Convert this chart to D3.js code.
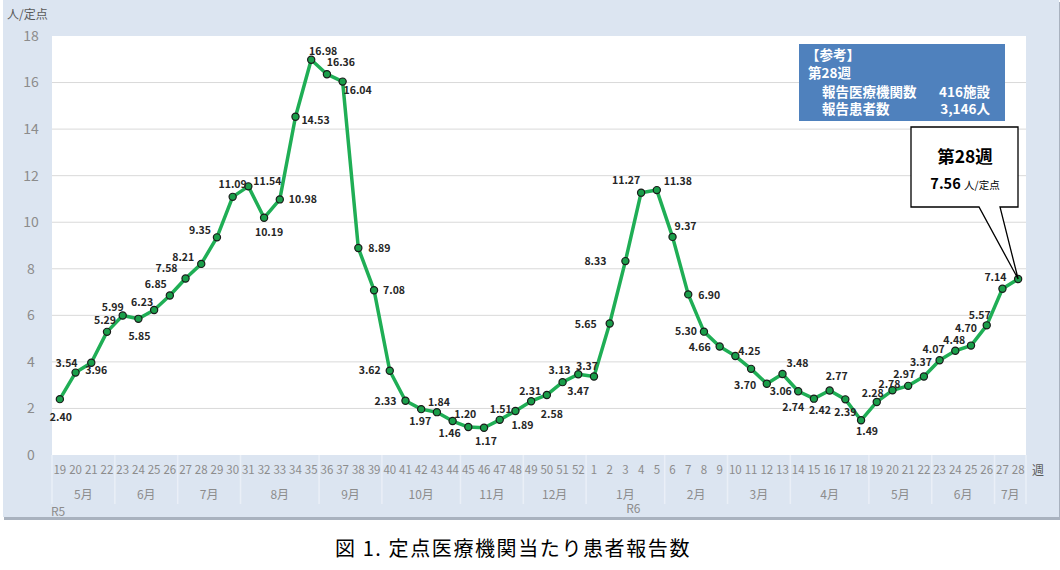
<!DOCTYPE html>
<html>
<head>
<meta charset="utf-8">
<script src="https://cdn.jsdelivr.net/npm/d3@7"></script>
<style>
  body { margin: 0; background: #fff; }
  svg text { font-family: "Noto Sans CJK JP", "Noto Sans", sans-serif; }
</style>
</head>
<body>
<div id="chart"></div>
<script>
// weeks R5 19..52, R6 1..28
const weeks = [19,20,21,22,23,24,25,26,27,28,29,30,31,32,33,34,35,36,37,38,39,40,41,42,43,44,45,46,47,48,49,50,51,52,
  1,2,3,4,5,6,7,8,9,10,11,12,13,14,15,16,17,18,19,20,21,22,23,24,25,26,27,28];
const values = [2.40,3.54,3.96,5.29,5.99,5.85,6.23,6.85,7.58,8.21,9.35,11.09,11.54,10.19,10.98,14.53,16.98,16.36,16.04,8.89,7.08,
  3.62,2.33,1.97,1.84,1.46,1.20,1.17,1.51,1.89,2.31,2.58,3.13,3.47,
  3.37,5.65,8.33,11.27,11.38,9.37,6.90,5.30,4.66,4.25,3.70,3.06,3.48,2.74,2.42,2.77,2.39,1.49,
  2.28,2.78,2.97,3.37,4.07,4.48,4.70,5.57,7.14,7.56];
const months = ['5月','6月','7月','8月','9月','10月','11月','12月','1月','2月','3月','4月','5月','6月','7月'];
const monthWeeks = [4,4,4,5,4,5,4,4,5,4,4,5,4,4,2];
const yTicks = [0,2,4,6,8,10,12,14,16,18];
const infoLines = ['【参考】','第28週'];
const infoRows = [['報告医療機関数','416施設'],['報告患者数','3,146人']];

// nudge of each value label from its point (label centre), null = no label
const labelNudge = [[1,18],[-9,-9],[5,8],[-2,-12],[-10,-8],[1,17],[-12,-8],[-14,-11],[-19,-10],[-18,-7],[-17,-7],
  [0,-13],[19,-5],[5,15],[23,0],[20,4],[12,-8],[14,-12],[15,9],[21,0],[20,0],
  [-20,0],[-20,1],[-1,12],[2,-10],[-3,12],[-3,-13],[2,14],[1,-11],[7,14],[-1,-10],[5,19],[-3,-12],[0,17],
  [-7,-10],[-24,1],[-30,0],[-15,-12],[21,-9],[13,-11],[21,1],[-18,0],[-20,1],[14,-5],[-6,16],[14,8],[15,-11],
  [-5,16],[6,12],[7,-14],[0,13],[6,11],
  [-4,-9],[-3,-6],[-4,-12],[-3,-14],[-6,-11],[-1,-10],[-5,-17],[-7,-10],[-7,-11],null];

const W = 1060, H = 570;
const svg = d3.select('#chart').append('svg').attr('width', W).attr('height', H);

// panel background
svg.append('rect').attr('x', 4).attr('y', 2).attr('width', 1056).attr('height', 518).attr('fill', '#a9b2bf');
svg.append('rect').attr('x', 3).attr('y', 0).attr('width', 1056).attr('height', 517).attr('fill', '#dce5f1');

const plot = {left: 52, right: 1026, top: 36, bottom: 455};
svg.append('rect').attr('x', plot.left).attr('y', plot.top)
  .attr('width', plot.right - plot.left).attr('height', plot.bottom - plot.top).attr('fill', '#fff');

const idx = d3.range(values.length);
const x = d3.scaleBand().domain(idx).range([plot.left, plot.right]);
const cx = i => x(i) + x.bandwidth() / 2;
const y = d3.scaleLinear().domain([0, 18]).range([plot.bottom, plot.top]);

// grid
svg.append('g').selectAll('line').data(yTicks.filter(t => t > 0 && t < 18)).enter().append('line')
  .attr('x1', plot.left).attr('x2', plot.right)
  .attr('y1', d => y(d)).attr('y2', d => y(d))
  .attr('stroke', '#d9d9d9').attr('stroke-width', 1);

// y labels
svg.append('g').selectAll('text').data(yTicks).enter().append('text')
  .attr('x', 31).attr('y', d => y(d)).attr('dy', '0.35em')
  .attr('text-anchor', 'middle').attr('font-size', 14).attr('fill', '#8c8c8c')
  .text(d => d);
svg.append('text').attr('x', 7).attr('y', 19).attr('font-size', 12).attr('fill', '#595959').text('人/定点');

// x axis: weeks
svg.append('g').selectAll('text').data(weeks).enter().append('text')
  .attr('x', (d, i) => cx(i)).attr('y', 474)
  .attr('text-anchor', 'middle').attr('font-size', 11.5).attr('fill', '#8c8c8c')
  .attr('font-family', '"Liberation Sans Narrow", "Noto Sans CJK JP", sans-serif')
  .text(d => d);
svg.append('text').attr('x', 1032).attr('y', 475).attr('font-size', 12).attr('fill', '#595959').text('週');

// months and separators
let start = 0;
const seps = [plot.left];
months.forEach((m, k) => {
  const end = start + monthWeeks[k] - 1;
  svg.append('text').attr('x', (cx(start) + cx(end)) / 2).attr('y', 499)
    .attr('text-anchor', 'middle').attr('font-size', 12).attr('fill', '#8c8c8c').text(m);
  seps.push(x(end) + x.bandwidth());
  start = end + 1;
});
svg.append('g').selectAll('line').data(seps).enter().append('line')
  .attr('x1', d => d).attr('x2', d => d).attr('y1', plot.bottom).attr('y2', 504)
  .attr('stroke', '#eaeff7').attr('stroke-width', 1.5);
svg.append('text').attr('x', 51).attr('y', 516).attr('font-size', 12).attr('fill', '#8c8c8c').text('R5');
const r6 = weeks.indexOf(1);
svg.append('text').attr('x', (cx(r6) + cx(r6 + 4)) / 2 + 8).attr('y', 513).attr('text-anchor', 'middle')
  .attr('font-size', 12).attr('fill', '#8c8c8c').text('R6');

// line + markers
const line = d3.line().x((d, i) => cx(i)).y(d => y(d));
svg.append('path').datum(values).attr('d', line)
  .attr('fill', 'none').attr('stroke', '#1fae55').attr('stroke-width', 3.5).attr('stroke-linejoin', 'round');
svg.append('g').selectAll('circle').data(values).enter().append('circle')
  .attr('cx', (d, i) => cx(i)).attr('cy', d => y(d)).attr('r', 3.6)
  .attr('fill', '#1a9e4a').attr('stroke', '#1a1a1a').attr('stroke-width', 1.2);

// value labels
svg.append('g').selectAll('text').data(values).enter().append('text')
  .filter((d, i) => labelNudge[i])
  .attr('x', (d, i) => cx(i) + labelNudge[i][0])
  .attr('y', (d, i) => y(d) + labelNudge[i][1])
  .attr('dy', '0.35em').attr('text-anchor', 'middle')
  .attr('font-family', '"Noto Sans", sans-serif')
  .attr('font-size', 10.5).attr('font-weight', 'bold').attr('fill', '#262626')
  .text(d => d.toFixed(2));

// info box
const info = svg.append('g').attr('font-size', 13.5).attr('font-weight', 'bold').attr('fill', '#fff');
info.append('rect').attr('x', 799).attr('y', 44).attr('width', 206).attr('height', 77).attr('fill', '#4f81bd');
info.append('text').attr('x', 806).attr('y', 60).text(infoLines[0]);
info.append('text').attr('x', 808).attr('y', 78).text(infoLines[1]);
infoRows.forEach((r, k) => {
  info.append('text').attr('x', 822).attr('y', 97 + k * 17).text(r[0]);
  info.append('text').attr('x', 990).attr('y', 97 + k * 17).attr('text-anchor', 'end').text(r[1]);
});

// callout for last week
const last = values.length - 1;
const bx0 = 911, bx1 = 1018, by0 = 127, by1 = 207;
const px = cx(last), py = y(values[last]);
svg.append('path')
  .attr('d', `M${bx0},${by0}H${bx1}V${by1}H1000L${px},${py}L979,${by1}H${bx0}Z`)
  .attr('fill', '#fff').attr('stroke', '#000').attr('stroke-width', 1.3);
svg.append('text').attr('x', 965).attr('y', 163).attr('text-anchor', 'middle')
  .attr('font-size', 17.5).attr('font-weight', 'bold').attr('fill', '#000').text('第' + weeks[last] + '週');
const cl = svg.append('text').attr('x', 965).attr('y', 189).attr('text-anchor', 'middle').attr('fill', '#000');
cl.append('tspan').attr('font-size', 14.5).attr('font-weight', 'bold').text(values[last].toFixed(2) + ' ');
cl.append('tspan').attr('font-size', 10.5).text('人/定点');

// caption
svg.append('text').attr('x', 513).attr('y', 556).attr('text-anchor', 'middle')
  .attr('font-size', 20).attr('letter-spacing', 1.6).attr('fill', '#000').text('図 1. 定点医療機関当たり患者報告数');
</script>
</body>
</html>
